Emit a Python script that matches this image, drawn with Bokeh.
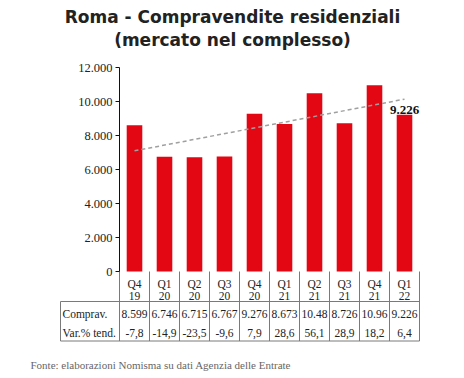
import numpy as np
from bokeh.plotting import figure
from bokeh.models import Range1d, FixedTicker, CustomJSTickFormatter, Title
from bokeh.core.properties import value
from bokeh.embed import file_html
from bokeh.resources import INLINE

# ---------------- data ----------------
quarters = ["Q4", "Q1", "Q2", "Q3", "Q4", "Q1", "Q2", "Q3", "Q4", "Q1"]
years = ["19", "20", "20", "20", "20", "21", "21", "21", "21", "22"]
compravendite = [8599, 6746, 6715, 6767, 9276, 8673, 10480, 8726, 10960, 9226]
var_tend = [-7.8, -14.9, -23.5, -9.6, 7.9, 28.6, 56.1, 28.9, 18.2, 6.4]
y_ticks = [0, 2000, 4000, 6000, 8000, 10000, 12000]
row_labels = ["Comprav.", "Var.% tend."]
title_lines = ["Roma - Compravendite residenziali", "(mercato nel complesso)"]
source_text = "Fonte: elaborazioni Nomisma su dati Agenzia delle Entrate"


def it_num(v):
    return f"{v:,}".replace(",", ".")


def it_dec(v):
    return f"{v:.1f}".replace(".", ",")


# ---------------- layout helpers (page pixel -> data) ----------------
OFF = 1                    # page px of figure px 0
FRAME_L, FRAME_R = 56, 456  # page px
FRAME_T, FRAME_B = 1, 356   # page px
AX_X, AX_Y = 120, 272       # page px of data (0, 0)
COL = 30.0                  # px per category
PX = 1000.0 / 17.0          # data units per vertical px


def px(page_x):
    return (page_x - AX_X) / COL


def py(page_y):
    return (AX_Y - page_y) * PX


n = len(compravendite)
centers = [i + 0.5 for i in range(n)]

p = figure(frame_width=FRAME_R - FRAME_L, frame_height=FRAME_B - FRAME_T,
           x_range=Range1d(px(FRAME_L), px(FRAME_R)),
           y_range=Range1d(py(FRAME_B), py(FRAME_T)),
           min_border_left=FRAME_L - OFF, min_border_right=0,
           min_border_top=0, min_border_bottom=18,
           x_axis_location=None,
           output_backend="svg", toolbar_location=None,
           outline_line_color=None, background_fill_color="white",
           border_fill_color="white")
p.xgrid.visible = False
p.ygrid.visible = False

# y axis
ax = p.yaxis[0]
ax.fixed_location = 0
ax.bounds = (0, 12000)
ax.ticker = FixedTicker(ticks=y_ticks)
ax.formatter = CustomJSTickFormatter(
    code="return tick.toString().replace(/\\B(?=(\\d{3})+(?!\\d))/g, '.');")
ax.major_tick_in = 0
ax.major_tick_out = 4
ax.minor_tick_in = 0
ax.minor_tick_out = 0
ax.axis_line_color = "#111111"
ax.major_tick_line_color = "#111111"
ax.major_label_standoff = 3
ax.major_label_text_font = "Liberation Serif"
ax.major_label_text_font_size = "12.5px"
ax.major_label_text_color = "#222222"

# bars
p.vbar(x=centers, top=compravendite, width=0.52,
       fill_color="#E30613", line_color=None)

# linear trend
coef = np.polyfit(centers, compravendite, 1)
tx = [centers[0], centers[-1]]
ty = [float(np.polyval(coef, t)) for t in tx]
p.line(tx, ty, line_color="#a0a0a0", line_width=1.5, line_dash="4 3")

# last value label
p.text(x=[centers[-1]], y=[compravendite[-1]], text=[it_num(compravendite[-1])],
       text_align="center", text_baseline="bottom", y_offset=-1,
       text_font=value("Liberation Serif"), text_font_style="bold",
       text_font_size="13px", text_color="#111111")

# ---------------- table ----------------
x_left = px(61)
y_top = 0
y_mid = py(302)
y_bot = py(341.5)
line_col = "#7a7a7a"

p.segment(x0=list(range(n + 1)), y0=[y_top] * (n + 1),
          x1=list(range(n + 1)), y1=[y_bot] * (n + 1),
          line_color=line_col, line_width=1)
p.segment(x0=[x_left, x_left, x_left], y0=[y_mid, y_bot, y_mid],
          x1=[n, n, x_left], y1=[y_mid, y_bot, y_bot],
          line_color=line_col, line_width=1)

tfont = value("Liberation Serif")
common = dict(text_baseline="middle", text_font=tfont,
              text_font_size="11.5px", text_color="#222222")
p.text(x=centers, y=[py(284.5)] * n, text=quarters, text_align="center", **common)
p.text(x=centers, y=[py(296)] * n, text=years, text_align="center", **common)
p.text(x=centers, y=[py(314.5)] * n, text=[it_num(v)[:5] for v in compravendite],
       text_align="center", **common)
p.text(x=centers, y=[py(333)] * n, text=[it_dec(v) for v in var_tend],
       text_align="center", **common)
p.text(x=[px(63)] * 2, y=[py(314.5), py(333)], text=row_labels,
       text_align="left", **common)

# ---------------- titles ----------------
p.text(x=[px(233)] * 2, y=[py(17), py(40)], text=title_lines,
       text_align="center", text_baseline="middle",
       text_font=value("DejaVu Sans"), text_font_style="bold",
       text_font_size="17px", text_color="#222222")

# ---------------- source ----------------
p.add_layout(Title(text=source_text, align="left", offset=31 - FRAME_L,
                   text_font="Liberation Serif", text_font_size="11px",
                   text_font_style="normal", text_color="#666666",
                   standoff=3), "below")

open("out.html", "w").write(file_html(p, INLINE))
